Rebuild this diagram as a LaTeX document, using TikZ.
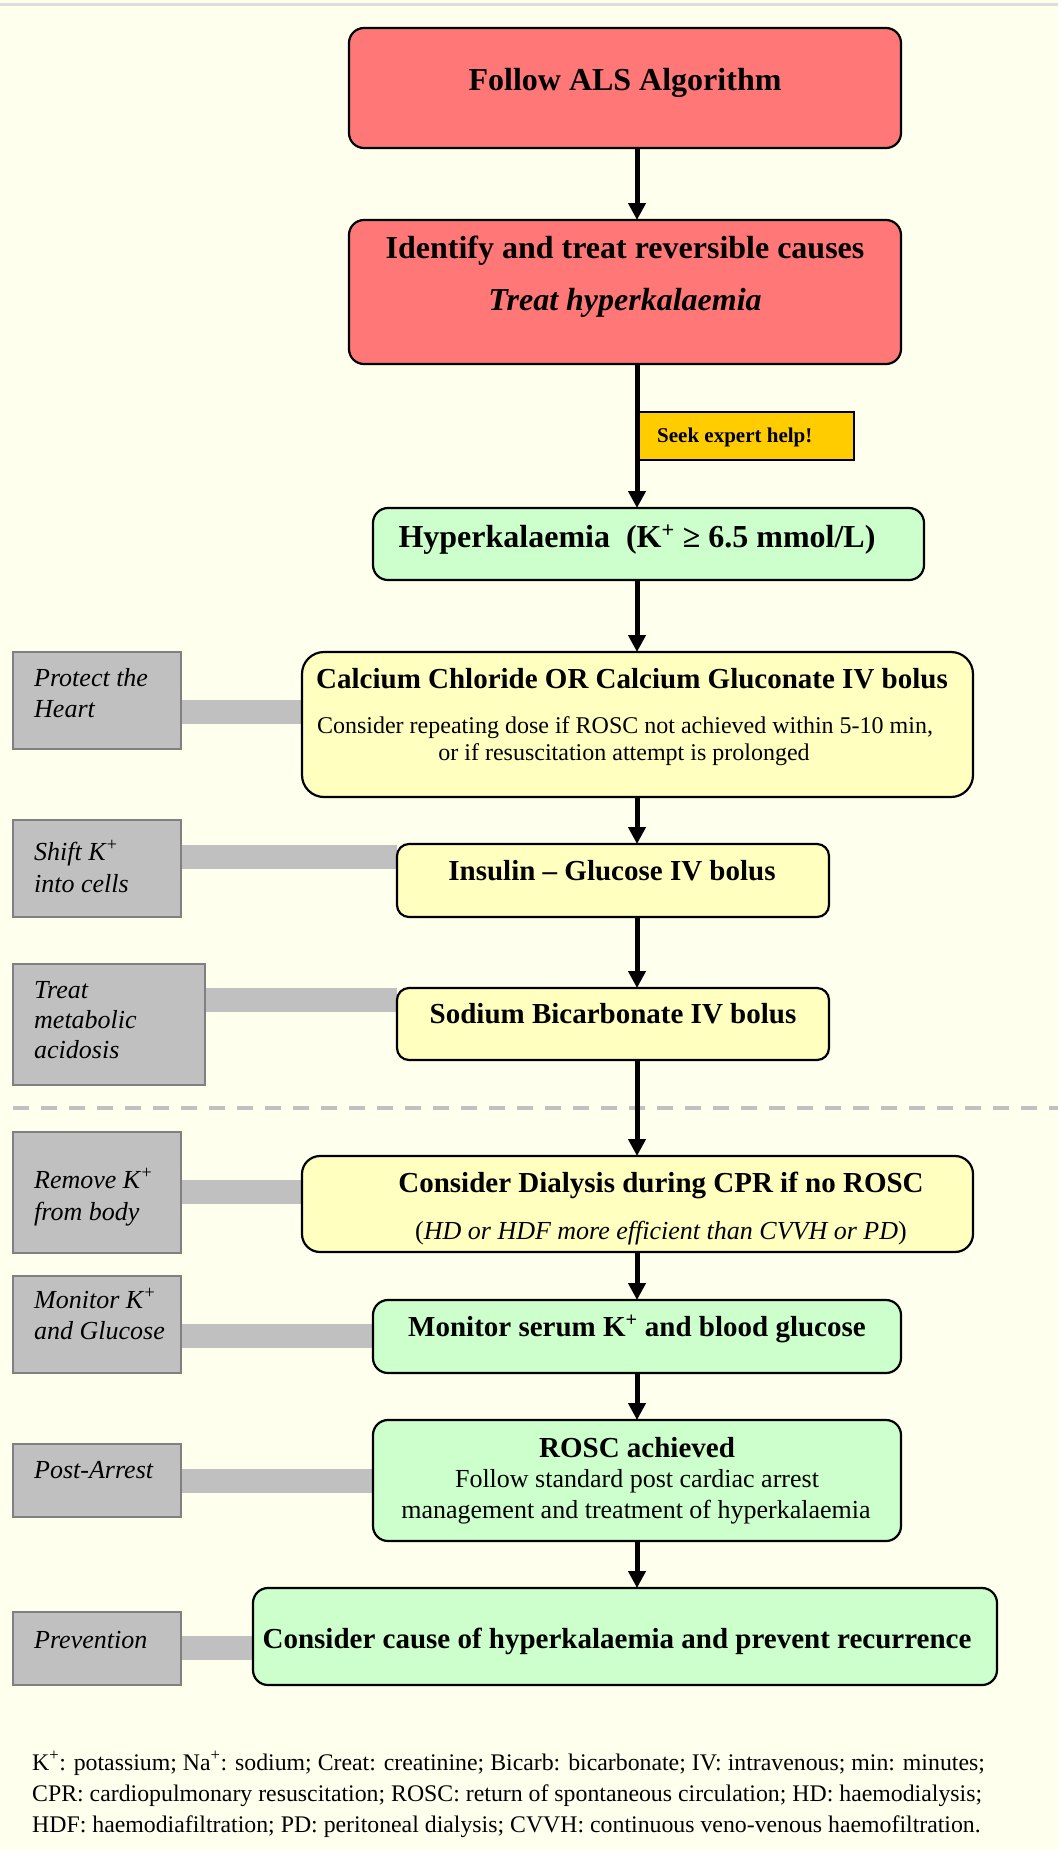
\documentclass[tikz,border=0pt]{standalone}
\usepackage{fontspec}
\setmainfont{Liberation Serif}
\usetikzlibrary{arrows.meta}
\definecolor{bgc}{HTML}{FFFFEE}
\definecolor{redc}{HTML}{FF7777}
\definecolor{greenc}{HTML}{CCFFCC}
\definecolor{yelc}{HTML}{FFFFC0}
\definecolor{grayc}{HTML}{C0C0C0}
\definecolor{grayb}{HTML}{808080}
\definecolor{goldc}{HTML}{FFCC00}
\definecolor{topc}{HTML}{DDDDDD}
\pgfdeclarelayer{bg}
\pgfsetlayers{bg,main}
\tikzset{
  box/.style={draw=black, line width=2.2pt, rounded corners=15pt, inner sep=0pt, outer sep=0pt},
  redbox/.style={box, fill=redc},
  greenbox/.style={box, fill=greenc},
  yelbox/.style={box, fill=yelc},
  sidebox/.style={draw=grayb, line width=2pt, fill=grayc, inner sep=0pt, outer sep=0pt},
  seekbox/.style={draw=black, line width=1.5pt, fill=goldc, inner sep=0pt, outer sep=0pt},
  bar/.style={draw=grayc, line width=24pt},
  flow/.style={line width=5pt, -{Triangle[width=17pt,length=17pt]}},
  tb32/.style={inner sep=0pt, anchor=base, font=\fontsize{32}{38}\selectfont\bfseries},
  tb29/.style={inner sep=0pt, anchor=base, font=\fontsize{29}{35}\selectfont\bfseries},
  tr26/.style={inner sep=0pt, anchor=base, font=\fontsize{26}{31}\selectfont},
  tr24/.style={inner sep=0pt, anchor=base, font=\fontsize{24}{29}\selectfont},
  side/.style={inner sep=0pt, anchor=base west, font=\fontsize{26}{31}\selectfont\itshape},
  foot/.style={inner sep=0pt, anchor=base west, font=\fontsize{23.8}{28}\selectfont},
}
\begin{document}
\begin{tikzpicture}[x=1pt,y=-1pt]
\useasboundingbox (0,0) rectangle (1058,1850);
\begin{pgfonlayer}{bg}
\fill[bgc] (0,0) rectangle (1058,1850);
\draw[topc, line width=3pt] (0,4) -- (1058,4);
\end{pgfonlayer}
\coordinate (axis) at (637,0);
% main boxes
\node[redbox, minimum width=552pt, minimum height=120pt] (b1) at (625,88) {};
\node[redbox, minimum width=552pt, minimum height=144pt] (b2) at (625,292) {};
\node[seekbox, minimum width=215pt, minimum height=48pt] (seek) at (746.5,436) {};
\node[greenbox, minimum width=551pt, minimum height=72pt] (hyp) at (648.5,544) {};
\node[yelbox, rounded corners=22pt, minimum width=671pt, minimum height=145pt] (calc) at (637.5,724.5) {};
\node[yelbox, rounded corners=12pt, minimum width=432pt, minimum height=73pt] (ins) at (613,880.5) {};
\node[yelbox, rounded corners=12pt, minimum width=432pt, minimum height=72pt] (sod) at (613,1024) {};
\node[yelbox, rounded corners=18pt, minimum width=671pt, minimum height=96pt] (dia) at (637.5,1204) {};
\node[greenbox, minimum width=528pt, minimum height=73pt] (mon) at (637,1336.5) {};
\node[greenbox, minimum width=528pt, minimum height=121pt] (rosc) at (637,1480.5) {};
\node[greenbox, minimum width=744pt, minimum height=97pt] (prev) at (625,1636.5) {};
% side boxes
\node[sidebox, minimum width=168pt, minimum height=97pt] (s1) at (97,700.5) {};
\node[sidebox, minimum width=168pt, minimum height=97pt] (s2) at (97,868.5) {};
\node[sidebox, minimum width=192pt, minimum height=121pt] (s3) at (109,1024.5) {};
\node[sidebox, minimum width=168pt, minimum height=121pt] (s4) at (97,1192.5) {};
\node[sidebox, minimum width=168pt, minimum height=97pt] (s5) at (97,1324.5) {};
\node[sidebox, minimum width=168pt, minimum height=73pt] (s6) at (97,1480.5) {};
\node[sidebox, minimum width=168pt, minimum height=73pt] (s7) at (97,1648.5) {};
% bars
\begin{pgfonlayer}{bg}
\draw[bar] ([yshift=-11.5pt]s1.east) -- ([yshift=12.5pt]calc.west);
\draw[bar] ([yshift=12pt]s2.east) -- ([yshift=24pt]ins.west);
\draw[bar] ([yshift=24.5pt]s3.east) -- ([yshift=24pt]sod.west);
\draw[bar] ([yshift=0.5pt]s4.east) -- ([yshift=12pt]dia.west);
\draw[bar] ([yshift=-11.5pt]s5.east) -- ([yshift=0.5pt]mon.west);
\draw[bar] (s6.east) -- (rosc.west);
\draw[bar] ([yshift=0.5pt]s7.east) -- ([yshift=-11.5pt]prev.west);
\draw[grayc, line width=4pt, dash pattern=on 16pt off 12pt] (13,1108) -- (1058,1108);
\end{pgfonlayer}
% arrows
\draw[flow] (b1.south -| axis) -- (b2.north -| axis);
\draw[flow] (b2.south -| axis) -- (hyp.north -| axis);
\draw[flow] (hyp.south -| axis) -- (calc.north -| axis);
\draw[flow] (calc.south -| axis) -- (ins.north -| axis);
\draw[flow] (ins.south -| axis) -- (sod.north -| axis);
\draw[flow] (sod.south -| axis) -- (dia.north -| axis);
\draw[flow] (dia.south -| axis) -- (mon.north -| axis);
\draw[flow] (mon.south -| axis) -- (rosc.north -| axis);
\draw[flow] (rosc.south -| axis) -- (prev.north -| axis);
% texts
\node[tb32] (t1) at (625,90) {Follow ALS Algorithm};
\node[tb32] (t2a) at (625,258) {Identify and treat reversible causes};
\node[tb32, font=\fontsize{32}{38}\selectfont\bfseries\itshape] (t2b) at (625,310) {Treat hyperkalaemia};
\node[inner sep=0pt, anchor=base west, font=\fontsize{21}{25}\selectfont\bfseries] (tseek) at (657,442) {Seek expert help!};
\node[tb32] (thyp) at (637,547) {Hyperkalaemia\ \ (K\textsuperscript{+} ≥ 6.5 mmol/L)};
\node[tb29] (tc1) at (632,688) {Calcium Chloride OR Calcium Gluconate IV bolus};
\node[tr24] (tc2) at (625,733) {Consider repeating dose if ROSC not achieved within 5-10 min,};
\node[tr24] (tc3) at (624,760) {or if resuscitation attempt is prolonged};
\node[tb29] (tins) at (612,880) {Insulin – Glucose IV bolus};
\node[tb29] (tsod) at (613,1023) {Sodium Bicarbonate IV bolus};
\node[tb29] (td1) at (661,1192) {Consider Dialysis during CPR if no ROSC};
\node[tr26] (td2) at (661,1239) {(\textit{HD or HDF more efficient than CVVH or PD})};
\node[tb29] (tmon) at (637,1336) {Monitor serum K\textsuperscript{+} and blood glucose};
\node[tb29] (tr1) at (637,1457) {ROSC achieved};
\node[tr26] (tr2) at (637,1487) {Follow standard post cardiac arrest};
\node[tr26] (tr3) at (636,1518) {management and treatment of hyperkalaemia};
\node[tb29] (tp) at (617,1648) {Consider cause of hyperkalaemia and prevent recurrence};
% side texts
\node[side] (l1a) at (34,686) {Protect the};
\node[side] (l1b) at (34,717) {Heart};
\node[side] (l2a) at (34,860) {Shift K\textsuperscript{+}};
\node[side] (l2b) at (34,892) {into cells};
\node[side] (l3a) at (34,998) {Treat};
\node[side] (l3b) at (34,1028) {metabolic};
\node[side] (l3c) at (34,1058) {acidosis};
\node[side] (l4a) at (34,1188) {Remove K\textsuperscript{+}};
\node[side] (l4b) at (34,1220) {from body};
\node[side] (l5a) at (34,1308) {Monitor K\textsuperscript{+}};
\node[side] (l5b) at (34,1339) {and Glucose};
\node[side] (l6) at (34,1478) {Post-Arrest};
\node[side] (l7) at (34,1648) {Prevention};
% footer
\node[foot] (f1) at (32,1770) {K\textsuperscript{+}: potassium; Na\textsuperscript{+}: sodium; Creat: creatinine; Bicarb: bicarbonate; IV: intravenous; min: minutes;};
\node[foot] (f2) at (32,1801) {CPR: cardiopulmonary resuscitation; ROSC: return of spontaneous circulation; HD: haemodialysis;};
\node[foot] (f3) at (32,1832) {HDF: haemodiafiltration; PD: peritoneal dialysis; CVVH: continuous veno-venous haemofiltration.};
\end{tikzpicture}
\end{document}
